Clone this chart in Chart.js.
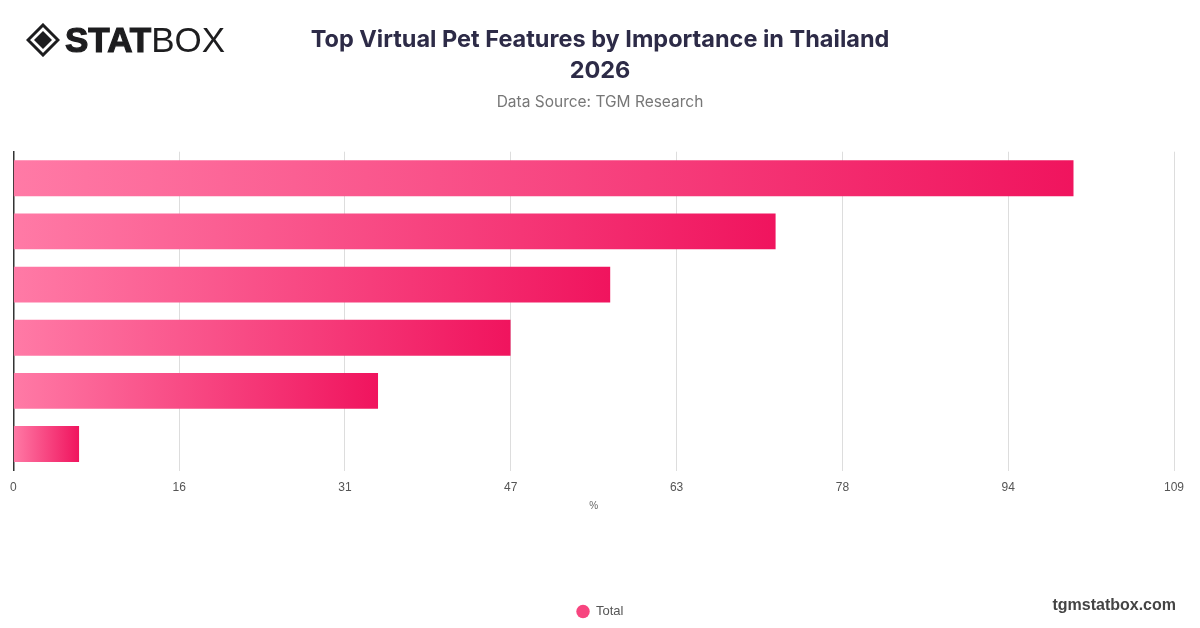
<!DOCTYPE html>
<html>
  <head>
    <script src="https://cdn.jsdelivr.net/npm/chart.js@4.4.1/dist/chart.umd.min.js"></script>
    <style>
      body { margin: 0; background: #fff; }
      #wrap { position: relative; width: 1200px; height: 628px; }
      #logo { position: absolute; left: 26px; top: 22px; display: flex; align-items: center; }
      #logo span { font-family: "Liberation Sans", Arial, sans-serif; font-size: 35px; color: #1d1d1f; line-height: 1; }
      #logo .b { font-weight: 900; margin-left: 5px; -webkit-text-stroke: 1.2px #1d1d1f; }
      #logo .l { font-weight: 300; }
      #site { position: absolute; right: 24px; top: 596px; font: bold 16px "Liberation Sans", Arial, sans-serif; color: #444; }
    </style>
  </head>
  <body>
    <div id="wrap">
      <canvas id="myChart" width="1200" height="628"></canvas>
      <div id="logo">
        <svg width="34" height="34" viewBox="0 0 34 34">
          <path d="M17 2 L32 17 L17 32 L2 17 Z" fill="none" stroke="#1d1d1f" stroke-width="3"/>
          <path d="M17 8 L26 17 L17 26 L8 17 Z" fill="#1d1d1f"/>
        </svg>
        <span class="b">STAT</span><span class="l">BOX</span>
      </div>
      <div id="site">tgmstatbox.com</div>
    </div>

    <script>
      // chart values
      var categories = ["Feature 1", "Feature 2", "Feature 3", "Feature 4", "Feature 5", "Feature 6"];
      var totals = [100.0, 71.9, 56.3, 46.9, 34.4, 6.2];
      var seriesName = "Total";
      var axisMax = 109.48;
      var axisStep = 15.64;

      function barGradient(context) {
        var chart = context.chart;
        var x = chart.scales && chart.scales.x;
        if (!x || !chart.chartArea || context.raw === undefined) return "#f7457f";
        var x0 = x.getPixelForValue(0);
        var x1 = x.getPixelForValue(context.raw);
        if (x1 - x0 < 1) return "#f7457f";
        var g = chart.ctx.createLinearGradient(x0, 0, x1, 0);
        g.addColorStop(0, "#ff7aa6");
        g.addColorStop(1, "#f0145e");
        return g;
      }

      var ctx = document.getElementById("myChart").getContext("2d");
      var myChart = new Chart(ctx, {
        type: "bar",
        data: {
          labels: categories,
          datasets: [
            {
              label: seriesName,
              data: totals,
              backgroundColor: barGradient,
              borderWidth: 0,
              categoryPercentage: 0.9,
              barPercentage: 0.75,
            },
          ],
        },
        options: {
          indexAxis: "y",
          responsive: false,
          animation: false,
          layout: { padding: { left: 9, right: 9, top: 0, bottom: 0 } },
          plugins: {
            title: {
              display: true,
              text: ["Top Virtual Pet Features by Importance in Thailand", "2026"],
              color: "#2d2b47",
              font: { family: "Inter", size: 23.5, weight: "bold", lineHeight: 1.3 },
              padding: { top: 25, bottom: 7 },
            },
            subtitle: {
              display: true,
              text: "Data Source: TGM Research",
              color: "#777",
              font: { family: "Inter", size: 15.5, lineHeight: 1.2 },
              padding: { top: 0, bottom: 40 },
            },
            legend: {
              position: "bottom",
              labels: {
                usePointStyle: true,
                pointStyle: "circle",
                boxWidth: 13,
                boxHeight: 9.5,
                color: "#555",
                font: { family: "Liberation Sans", size: 13 },
                padding: 10,
                generateLabels: function (chart) {
                  return [{
                    text: seriesName,
                    fillStyle: "#f7457f",
                    strokeStyle: "#f7457f",
                    lineWidth: 0,
                    pointStyle: "circle",
                    fontColor: "#555",
                    datasetIndex: 0,
                  }];
                },
              },
            },
            tooltip: { enabled: false },
          },
          scales: {
            x: {
              min: 0,
              max: axisMax,
              ticks: {
                stepSize: axisStep,
                color: "#555",
                font: { family: "Liberation Sans", size: 12 },
                padding: 10,
                callback: function (v) { return Math.round(v); },
              },
              grid: { color: "#dddddd", drawTicks: false },
              border: { display: false },
              title: {
                display: true,
                text: "%",
                color: "#666",
                font: { family: "Liberation Sans", size: 10 },
                padding: { top: -5, bottom: 83 },
              },
            },
            y: {
              ticks: { display: false },
              grid: { display: false, drawTicks: false },
              border: { display: true, color: "#333", width: 1.5 },
            },
            // empty right-hand gutter so the titles stay centred on the page
            yGutter: {
              axis: "y",
              type: "category",
              position: "right",
              ticks: { display: false },
              grid: { display: false, drawTicks: false },
              border: { display: false },
              afterFit: function (scale) { scale.width = 17; },
            },
          },
        },
      });
    </script>
  </body>
</html>
